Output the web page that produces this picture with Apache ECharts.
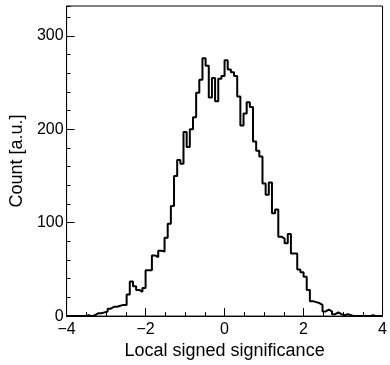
<!DOCTYPE html>
<html>
<head>
<meta charset="utf-8">
<script src="https://cdn.jsdelivr.net/npm/echarts@6/dist/echarts.min.js"></script>
<style>
  html, body { margin: 0; padding: 0; background: #fff; }
  #chart { width: 390px; height: 365px; }
</style>
</head>
<body>
<div id="chart"></div>
<script>
// histogram binning
var binLow = -4;
var binWidth = 0.08;
// counts per bin
var counts = [
  0, 0, 0, 0, 0, 0, 1, 0, 1, 3,
  3, 4, 5, 8, 10, 10, 11, 12, 12, 23,
  37, 32, 28, 26, 30, 49, 49, 65, 63, 70,
  69, 84, 99, 118, 150, 167, 163, 197, 181, 200,
  213, 239, 253, 276, 268, 234, 255, 230, 254, 257,
  274, 264, 261, 257, 235, 204, 217, 229, 224, 187,
  177, 171, 142, 130, 143, 110, 114, 85, 83, 78,
  88, 67, 67, 50, 47, 42, 28, 16, 15, 14,
  12, 5, 7, 5, 2, 4, 2, 1, 2, 1,
  0, 0, 0, 0, 0, 0, 1, 0, 0, 0
];
var xTicks = [-4, -2, 0, 2, 4];
var yTicks = [0, 100, 200, 300];

// step outline: each bin gives a flat segment from its low edge to its high edge
var outline = [];
for (var i = 0; i < counts.length; i++) {
  var lo = +(binLow + i * binWidth).toFixed(4);
  var hi = +(binLow + (i + 1) * binWidth).toFixed(4);
  outline.push([lo, counts[i]]);
  outline.push([hi, counts[i]]);
}

var font = 'Liberation Sans, Arial, sans-serif';
var chart = echarts.init(document.getElementById('chart'));
chart.setOption({
  animation: false,
  backgroundColor: '#fff',
  grid: {
    left: 63, right: 3, top: 6, bottom: 45,
    show: true, borderColor: '#000', borderWidth: 1
  },
  xAxis: {
    type: 'value',
    min: xTicks[0], max: xTicks[xTicks.length - 1], interval: 2,
    name: 'Local signed significance',
    nameLocation: 'middle', nameGap: 19,
    nameTextStyle: { fontFamily: font, fontSize: 18, color: '#000' },
    axisLine: { onZero: false, lineStyle: { color: '#000', width: 1 } },
    axisTick: { inside: true, length: 8, lineStyle: { color: '#000' } },
    minorTick: { show: true, splitNumber: 4, length: 4, lineStyle: { color: '#000' } },
    axisLabel: {
      fontFamily: font, fontSize: 16, color: '#000', margin: 5,
      formatter: function (v) { return v < 0 ? '\u2212' + (-v) : '' + v; }
    },
    splitLine: { show: false }
  },
  yAxis: [{
    type: 'value',
    min: yTicks[0], max: 332, interval: 100,
    name: 'Count [a.u.]',
    nameLocation: 'middle', nameGap: 36,
    nameTextStyle: { fontFamily: font, fontSize: 18, color: '#000' },
    axisLine: { show: true, onZero: false, lineStyle: { color: '#000', width: 1 } },
    axisTick: { inside: true, length: 8, lineStyle: { color: '#000' } },
    axisLabel: {
      fontFamily: font, fontSize: 16, color: '#000', margin: 3,
      showMaxLabel: false
    },
    splitLine: { show: false }
  }, {
    // minor ticks every 20 counts
    type: 'value', position: 'left',
    min: 0, max: 332, interval: 20,
    axisLine: { show: false, onZero: false },
    axisTick: { show: true, inside: true, length: 4, lineStyle: { color: '#000' } },
    axisLabel: { show: false },
    splitLine: { show: false }
  }],
  series: [{
    type: 'line',
    data: outline,
    showSymbol: false,
    lineStyle: { color: '#000', width: 2 },
    z: 3
  }]
});
</script>
</body>
</html>
